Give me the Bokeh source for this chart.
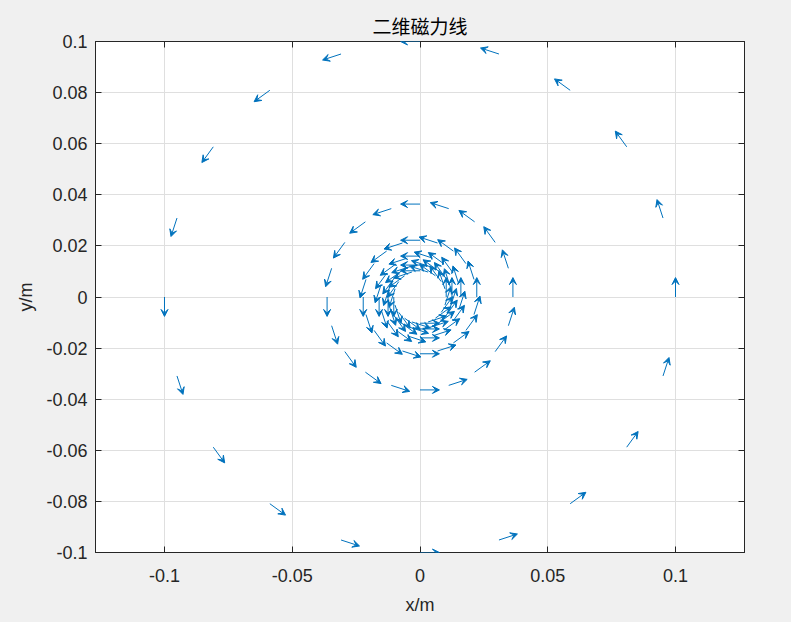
import numpy as np
from bokeh.plotting import figure
from bokeh.models import (ColumnDataSource, Arrow, VeeHead, Range1d, LinearAxis,
                          FixedTicker, Grid)
from bokeh.embed import file_html
from bokeh.resources import INLINE

# ---- data ----
inv_radius = [10.0, 27.5, 45.0, 62.5, 80.0, 97.5]          # 1/r  (1/m) of the field-line rings
angles_deg = [0, 18, 36, 54, 72, 90, 108, 126, 144, 162,
              180, 198, 216, 234, 252, 270, 288, 306, 324, 342]
arrow_len = 0.0076                                          # quiver arrow length (m)

x_ticks = [-0.1, -0.05, 0, 0.05, 0.1]
x_tick_labels = ["-0.1", "-0.05", "0", "0.05", "0.1"]
y_ticks = [-0.1, -0.08, -0.06, -0.04, -0.02, 0, 0.02, 0.04, 0.06, 0.08, 0.1]
y_tick_labels = ["-0.1", "-0.08", "-0.06", "-0.04", "-0.02", "0",
                 "0.02", "0.04", "0.06", "0.08", "0.1"]

# ---- build quiver ----
x0, y0, x1, y1 = [], [], [], []
for k in inv_radius:
    r = 1.0 / k
    for a in angles_deg:
        t = np.deg2rad(a)
        px, py = r * np.cos(t), r * np.sin(t)
        u, v = -np.sin(t), np.cos(t)
        x0.append(px); y0.append(py)
        x1.append(px + arrow_len * u); y1.append(py + arrow_len * v)
src = ColumnDataSource(dict(x0=x0, y0=y0, x1=x1, y1=y1))

C = "#0072BD"
TXT = "#262626"
FONT = "Liberation Sans"

p = figure(width=791, height=622, output_backend="svg", toolbar_location=None,
           x_range=Range1d(-0.127, 0.127), y_range=Range1d(-0.1, 0.1),
           x_axis_type=None, y_axis_type=None,
           min_border_left=95, min_border_right=47, min_border_top=41, min_border_bottom=70)
p.border_fill_color = "#f0f0f0"
p.background_fill_color = "white"
p.outline_line_color = TXT

p.title.text = "二维磁力线"
p.title.align = "center"
p.title.text_font = "Noto Sans CJK SC"
p.title.text_font_size = "19px"
p.title.text_font_style = "normal"
p.title.text_color = "black"
p.title.standoff = 5

def style_axis(ax, ticks, labels, show):
    ax.ticker = FixedTicker(ticks=ticks)
    ax.major_tick_in = 6
    ax.major_tick_out = 0
    ax.minor_tick_line_color = None
    ax.axis_line_color = TXT
    ax.major_tick_line_color = TXT
    ax.major_label_text_font = FONT
    ax.major_label_text_color = TXT
    if show:
        ax.major_label_overrides = {t: l for t, l in zip(ticks, labels)}
        ax.major_label_text_font_size = "18px"
        ax.axis_label_text_font = FONT
        ax.axis_label_text_font_size = "18px"
        ax.axis_label_text_font_style = "normal"
        ax.axis_label_text_color = TXT
    else:
        ax.major_label_overrides = {t: "" for t in ticks}
        ax.major_label_standoff = 0

xb = LinearAxis(axis_label="x/m")
style_axis(xb, x_ticks, x_tick_labels, True)
xb.major_label_standoff = 16
xb.axis_label_standoff = 10
p.add_layout(xb, "below")

yl = LinearAxis(axis_label="y/m")
style_axis(yl, y_ticks, y_tick_labels, True)
yl.major_label_standoff = 8
yl.axis_label_standoff = 7
p.add_layout(yl, "left")

xt = LinearAxis()
style_axis(xt, x_ticks, x_tick_labels, False)
p.add_layout(xt, "above")
yr = LinearAxis()
style_axis(yr, y_ticks, y_tick_labels, False)
p.add_layout(yr, "right")

p.add_layout(Grid(dimension=0, ticker=FixedTicker(ticks=x_ticks), grid_line_color="#dfdfdf"))
p.add_layout(Grid(dimension=1, ticker=FixedTicker(ticks=y_ticks), grid_line_color="#dfdfdf"))

p.add_layout(Arrow(end=VeeHead(size=7, fill_color=C, line_color=C, line_width=1),
                   x_start="x0", y_start="y0", x_end="x1", y_end="y1",
                   source=src, line_color=C, line_width=1))

html = file_html(p, INLINE)
html = html.replace("</head>", "<style>html, body {background: #f0f0f0;}</style></head>", 1)
open("out.html", "w").write(html)
